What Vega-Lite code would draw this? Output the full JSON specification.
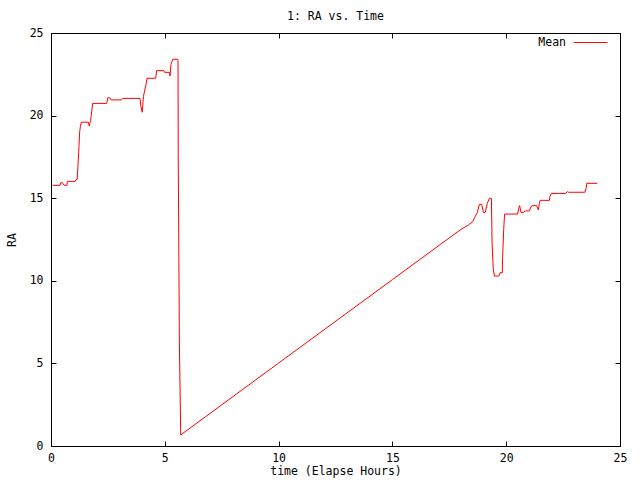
{
  "$schema": "https://vega.github.io/schema/vega-lite/v6.json",
  "description": "1: RA vs. Time",
  "autosize": {"type": "none"},
  "width": 569,
  "height": 413,
  "padding": {"left": 51, "top": 33, "right": 20, "bottom": 34},
  "background": "white",
  "title": {"text": "1: RA vs. Time", "fontSize": 11.5, "fontWeight": "normal", "font": "DejaVu Sans Mono, monospace", "offset": 3, "color": "black"},
  "data": {
    "values": [
      {"time": 0.07, "RA": 15.78, "series": "Mean"},
      {"time": 0.40, "RA": 15.78, "series": "Mean"},
      {"time": 0.43, "RA": 15.94, "series": "Mean"},
      {"time": 0.50, "RA": 15.94, "series": "Mean"},
      {"time": 0.58, "RA": 15.78, "series": "Mean"},
      {"time": 0.70, "RA": 15.78, "series": "Mean"},
      {"time": 0.72, "RA": 16.02, "series": "Mean"},
      {"time": 1.07, "RA": 16.02, "series": "Mean"},
      {"time": 1.10, "RA": 16.14, "series": "Mean"},
      {"time": 1.15, "RA": 16.14, "series": "Mean"},
      {"time": 1.19, "RA": 17.11, "series": "Mean"},
      {"time": 1.23, "RA": 18.12, "series": "Mean"},
      {"time": 1.26, "RA": 19.03, "series": "Mean"},
      {"time": 1.29, "RA": 19.33, "series": "Mean"},
      {"time": 1.33, "RA": 19.6, "series": "Mean"},
      {"time": 1.64, "RA": 19.6, "series": "Mean"},
      {"time": 1.68, "RA": 19.37, "series": "Mean"},
      {"time": 1.74, "RA": 19.7, "series": "Mean"},
      {"time": 1.80, "RA": 20.38, "series": "Mean"},
      {"time": 1.83, "RA": 20.74, "series": "Mean"},
      {"time": 2.45, "RA": 20.74, "series": "Mean"},
      {"time": 2.49, "RA": 21.08, "series": "Mean"},
      {"time": 2.59, "RA": 21.08, "series": "Mean"},
      {"time": 2.64, "RA": 20.95, "series": "Mean"},
      {"time": 3.10, "RA": 20.95, "series": "Mean"},
      {"time": 3.15, "RA": 21.04, "series": "Mean"},
      {"time": 3.91, "RA": 21.04, "series": "Mean"},
      {"time": 3.95, "RA": 20.55, "series": "Mean"},
      {"time": 4.01, "RA": 20.2, "series": "Mean"},
      {"time": 4.06, "RA": 21.14, "series": "Mean"},
      {"time": 4.12, "RA": 21.55, "series": "Mean"},
      {"time": 4.17, "RA": 21.85, "series": "Mean"},
      {"time": 4.22, "RA": 22.26, "series": "Mean"},
      {"time": 4.60, "RA": 22.26, "series": "Mean"},
      {"time": 4.64, "RA": 22.72, "series": "Mean"},
      {"time": 4.96, "RA": 22.72, "series": "Mean"},
      {"time": 4.99, "RA": 22.62, "series": "Mean"},
      {"time": 5.20, "RA": 22.62, "series": "Mean"},
      {"time": 5.23, "RA": 22.4, "series": "Mean"},
      {"time": 5.27, "RA": 23.1, "series": "Mean"},
      {"time": 5.35, "RA": 23.41, "series": "Mean"},
      {"time": 5.57, "RA": 23.41, "series": "Mean"},
      {"time": 5.58, "RA": 23.35, "series": "Mean"},
      {"time": 5.59, "RA": 17.72, "series": "Mean"},
      {"time": 5.64, "RA": 6.31, "series": "Mean"},
      {"time": 5.70, "RA": 0.67, "series": "Mean"},
      {"time": 10.0, "RA": 5.02, "series": "Mean"},
      {"time": 15.0, "RA": 10.07, "series": "Mean"},
      {"time": 17.53, "RA": 12.63, "series": "Mean"},
      {"time": 17.97, "RA": 13.07, "series": "Mean"},
      {"time": 18.34, "RA": 13.38, "series": "Mean"},
      {"time": 18.53, "RA": 13.58, "series": "Mean"},
      {"time": 18.63, "RA": 13.88, "series": "Mean"},
      {"time": 18.73, "RA": 14.12, "series": "Mean"},
      {"time": 18.82, "RA": 14.63, "series": "Mean"},
      {"time": 18.92, "RA": 14.63, "series": "Mean"},
      {"time": 19.0, "RA": 14.14, "series": "Mean"},
      {"time": 19.08, "RA": 14.14, "series": "Mean"},
      {"time": 19.17, "RA": 14.69, "series": "Mean"},
      {"time": 19.26, "RA": 14.99, "series": "Mean"},
      {"time": 19.35, "RA": 14.99, "series": "Mean"},
      {"time": 19.38, "RA": 12.27, "series": "Mean"},
      {"time": 19.43, "RA": 10.76, "series": "Mean"},
      {"time": 19.48, "RA": 10.29, "series": "Mean"},
      {"time": 19.68, "RA": 10.29, "series": "Mean"},
      {"time": 19.73, "RA": 10.49, "series": "Mean"},
      {"time": 19.83, "RA": 10.49, "series": "Mean"},
      {"time": 19.84, "RA": 11.36, "series": "Mean"},
      {"time": 19.89, "RA": 13.12, "series": "Mean"},
      {"time": 19.93, "RA": 14.04, "series": "Mean"},
      {"time": 20.50, "RA": 14.04, "series": "Mean"},
      {"time": 20.55, "RA": 14.39, "series": "Mean"},
      {"time": 20.59, "RA": 14.55, "series": "Mean"},
      {"time": 20.65, "RA": 14.14, "series": "Mean"},
      {"time": 20.75, "RA": 14.14, "series": "Mean"},
      {"time": 20.84, "RA": 14.23, "series": "Mean"},
      {"time": 21.02, "RA": 14.23, "series": "Mean"},
      {"time": 21.09, "RA": 14.49, "series": "Mean"},
      {"time": 21.16, "RA": 14.55, "series": "Mean"},
      {"time": 21.34, "RA": 14.55, "series": "Mean"},
      {"time": 21.41, "RA": 14.29, "series": "Mean"},
      {"time": 21.46, "RA": 14.69, "series": "Mean"},
      {"time": 21.49, "RA": 14.87, "series": "Mean"},
      {"time": 21.90, "RA": 14.87, "series": "Mean"},
      {"time": 21.92, "RA": 15.09, "series": "Mean"},
      {"time": 21.98, "RA": 15.29, "series": "Mean"},
      {"time": 22.61, "RA": 15.29, "series": "Mean"},
      {"time": 22.69, "RA": 15.40, "series": "Mean"},
      {"time": 22.74, "RA": 15.36, "series": "Mean"},
      {"time": 23.46, "RA": 15.36, "series": "Mean"},
      {"time": 23.51, "RA": 15.6, "series": "Mean"},
      {"time": 23.55, "RA": 15.94, "series": "Mean"},
      {"time": 23.58, "RA": 15.90, "series": "Mean"},
      {"time": 24.0, "RA": 15.90, "series": "Mean"}
    ]
  },
  "layer": [
    {
      "mark": {"type": "line", "strokeWidth": 1, "interpolate": "linear"},
      "encoding": {
        "x": {
          "field": "time", "type": "quantitative",
          "scale": {"domain": [0, 25], "nice": false, "zero": false},
          "axis": {"orient": "bottom", "title": "time (Elapse Hours)", "values": [0, 5, 10, 15, 20, 25], "tickSize": -5, "labelPadding": 11, "titlePadding": 2, "labelFlush": false, "labelOverlap": false}
        },
        "y": {
          "field": "RA", "type": "quantitative",
          "scale": {"domain": [0, 25], "nice": false},
          "axis": {"orient": "left", "title": "RA", "values": [0, 5, 10, 15, 20, 25], "tickSize": -5, "labelPadding": 13, "titlePadding": 12, "labelFlush": false, "labelOverlap": false}
        },
        "color": {
          "field": "series", "type": "nominal",
          "scale": {"domain": ["Mean"], "range": ["#ff0000"]},
          "legend": {
            "title": null, "orient": "none", "legendX": 522, "legendY": -8,
            "symbolType": "stroke", "symbolSize": 1156, "symbolStrokeWidth": 1,
            "labelAlign": "right", "labelOffset": -42,
            "labelFont": "DejaVu Sans Mono, monospace", "labelFontSize": 11.5, "labelColor": "black"
          }
        }
      }
    },
    {
      "mark": {"type": "line", "strokeOpacity": 0},
      "encoding": {
        "x": {
          "field": "time", "type": "quantitative",
          "scale": {"domain": [0, 25], "nice": false, "zero": false},
          "axis": {"orient": "top", "title": null, "labels": false, "values": [0, 5, 10, 15, 20, 25], "tickSize": -5}
        },
        "y": {
          "field": "RA", "type": "quantitative",
          "scale": {"domain": [0, 25], "nice": false},
          "axis": {"orient": "right", "title": null, "labels": false, "values": [0, 5, 10, 15, 20, 25], "tickSize": -5}
        }
      }
    }
  ],
  "resolve": {"axis": {"x": "independent", "y": "independent"}},
  "config": {
    "view": {"stroke": "black", "strokeWidth": 1},
    "axis": {
      "grid": false,
      "domainColor": "black",
      "tickColor": "black",
      "labelFont": "DejaVu Sans Mono, monospace",
      "labelFontSize": 11.5,
      "labelColor": "black",
      "titleFont": "DejaVu Sans Mono, monospace",
      "titleFontSize": 11.5,
      "titleFontWeight": "normal",
      "titleColor": "black"
    }
  }
}
